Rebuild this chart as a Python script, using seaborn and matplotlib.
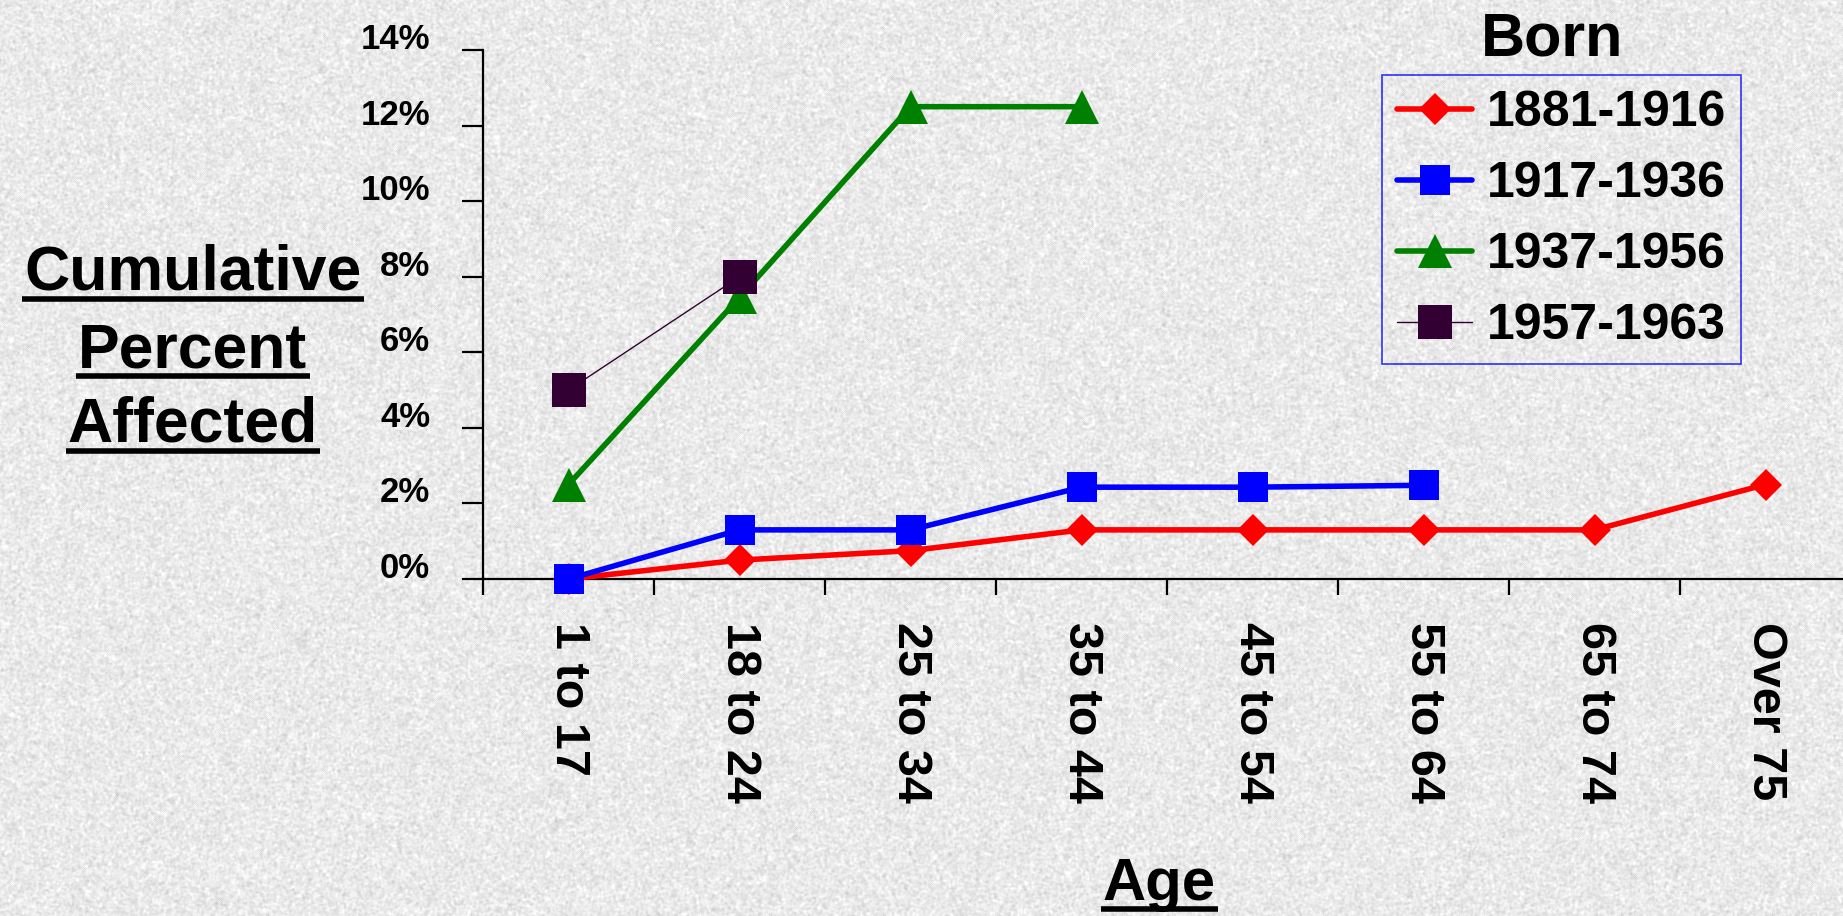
import numpy as np
import pandas as pd
import matplotlib
matplotlib.use("Agg")
import matplotlib.pyplot as plt
import matplotlib.transforms as mtransforms
from matplotlib.lines import Line2D
from matplotlib.ticker import FixedLocator, FuncFormatter
import seaborn as sns

# ---- data -------------------------------------------------------------
age_groups = ["1 to 17", "18 to 24", "25 to 34", "35 to 44",
              "45 to 54", "55 to 64", "65 to 74", "Over 75"]
cohorts = ["1881-1916", "1917-1936", "1937-1956", "1957-1963"]
born_1881_1916 = [0.0, 0.5, 0.75, 1.3, 1.3, 1.3, 1.3, 2.5]
born_1917_1936 = [0.0, 1.3, 1.3, 2.43, 2.43, 2.48, np.nan, np.nan]
born_1937_1956 = [2.5, 7.45, 12.5, 12.5, np.nan, np.nan, np.nan, np.nan]
born_1957_1963 = [5.0, 8.0, np.nan, np.nan, np.nan, np.nan, np.nan, np.nan]
y_ticks = [0, 2, 4, 6, 8, 10, 12, 14]

series = dict(zip(cohorts, [born_1881_1916, born_1917_1936,
                            born_1937_1956, born_1957_1963]))

# ---- styling ------------------------------------------------------------
styles = {
    "1881-1916": dict(color="#ff0000", marker="D", markersize=16, linewidth=4.0),
    "1917-1936": dict(color="#0000ff", marker="s", markersize=22, linewidth=4.0),
    "1937-1956": dict(color="#008000", marker="^", markersize=24, linewidth=4.0),
    "1957-1963": dict(color="#330033", marker="s", markersize=24, linewidth=1.0),
}

sns.set_style("ticks")
plt.rcParams["font.family"] = ["Liberation Sans", "DejaVu Sans"]
plt.rcParams["font.weight"] = "bold"
for key in ("text.color", "axes.labelcolor", "xtick.color", "ytick.color",
            "xtick.labelcolor", "ytick.labelcolor"):
    plt.rcParams[key] = "black"

W, H, DPI = 1843, 916, 100
fig = plt.figure(figsize=(W / DPI, H / DPI), dpi=DPI)
bg_mean = 0.915
fig.patch.set_facecolor((bg_mean, bg_mean, bg_mean))

# speckled stone backdrop
rng = np.random.default_rng(11)
tex = rng.normal(0.0, 1.0, (H, W))
for _ in range(2):
    tex = (tex + np.roll(tex, 1, 0) + np.roll(tex, -1, 0)
           + np.roll(tex, 1, 1) + np.roll(tex, -1, 1)) / 5.0
tex = tex / tex.std()
tex = np.clip(bg_mean + 0.03 * tex, 0, 1)
fig.figimage(tex, xo=0, yo=0, cmap="gray", vmin=0, vmax=1,
             origin="upper", zorder=-5)

ax_left, ax_bottom = 483 / W, 1 - 579 / H
ax = fig.add_axes([ax_left, ax_bottom, 1 - ax_left, (579 - 50) / H])
ax.set_facecolor("none")

# long-form table, one row per plotted point
rows = []
for name in cohorts:
    for i, (age, v) in enumerate(zip(age_groups, series[name])):
        if not np.isnan(v):
            rows.append({"pos": i, "age": age, "cohort": name, "value": v})
df = pd.DataFrame(rows)

for name in cohorts:
    st = styles[name]
    sns.lineplot(data=df[df["cohort"] == name], x="pos", y="value", ax=ax,
                 color=st["color"], marker=st["marker"],
                 markersize=st["markersize"], linewidth=st["linewidth"],
                 markeredgewidth=0, errorbar=None, legend=False,
                 clip_on=False, zorder=3)

# ---- axes ------------------------------------------------------------------
n = len(age_groups)
ax.set_xlim(-0.5, -0.5 + (W - 483) / 171.0)
ax.set_ylim(0, 14)
ax.set_xlabel("")
ax.set_ylabel("")
for side in ("top", "right"):
    ax.spines[side].set_visible(False)
for side in ("left", "bottom"):
    ax.spines[side].set_linewidth(1.6)
    ax.spines[side].set_color("black")

ax.xaxis.set_major_locator(FixedLocator(range(n)))
ax.set_xticklabels(age_groups, rotation=-90, ha="center", va="top",
                   fontsize=35, fontweight="bold", color="black")
ax.xaxis.set_minor_locator(FixedLocator([i - 0.5 for i in range(n + 1)]))
ax.tick_params(axis="x", which="major", length=0, pad=31)
ax.tick_params(axis="x", which="minor", length=11.5, width=1.6,
               direction="out", color="black")

ax.yaxis.set_major_locator(FixedLocator(y_ticks))
ax.yaxis.set_major_formatter(FuncFormatter(lambda v, p: f"{int(v)}%"))
ax.tick_params(axis="y", which="major", length=15, width=1.6,
               direction="out", color="black", labelcolor="black",
               pad=23, labelsize=25)
for lab in ax.get_yticklabels():
    lab.set_fontweight("bold")

# legend
handles = [Line2D([], [], color=styles[c]["color"], marker=styles[c]["marker"],
                  markersize=styles[c]["markersize"], markeredgewidth=0,
                  linewidth=styles[c]["linewidth"]) for c in cohorts]
leg = ax.legend(handles, cohorts, loc="upper left",
                bbox_to_anchor=(1382 / W, 1 - 75 / H),
                bbox_transform=fig.transFigure, borderaxespad=0,
                prop={"size": 36, "weight": "bold"}, frameon=True,
                fancybox=False, handlelength=1.5, handletextpad=0.3,
                borderpad=0.3, labelspacing=0.5)
leg.get_frame().set_edgecolor("#0000ff")
leg.get_frame().set_linewidth(1.2)
leg.get_frame().set_facecolor("none")
for t in leg.get_texts():
    t.set_color("black")

fig.text(1552 / W, 1 - 55 / H, "Born", ha="center", va="baseline",
         fontsize=44, fontweight="bold", color="black")

# underlined axis titles
titles = []
for txt, base in (("Cumulative", 290), ("Percent", 367), ("Affected", 442)):
    titles.append((fig.text(193 / W, 1 - base / H, txt, ha="center",
                            va="baseline", fontsize=45, fontweight="bold",
                            color="black"), base))
titles.append((fig.text(1159 / W, 1 - 900 / H, "Age", ha="center",
                        va="baseline", fontsize=43, fontweight="bold",
                        color="black"), 900))

fig.canvas.draw()
renderer = fig.canvas.get_renderer()
for t, base in titles:
    bb = t.get_window_extent(renderer)
    y = 1 - (base + 9) / H
    fig.add_artist(Line2D([(bb.x0 - 2) / W, (bb.x1 + 2) / W], [y, y],
                          transform=fig.transFigure, color="black",
                          linewidth=4.0, solid_capstyle="butt"))

# y tick labels sit a little above their tick marks
shift = mtransforms.ScaledTranslation(0, 14 / DPI, fig.dpi_scale_trans)
for tick in ax.yaxis.get_major_ticks():
    tick.label1.set_transform(tick.label1.get_transform() + shift)

fig.savefig("out.png", dpi=DPI)
